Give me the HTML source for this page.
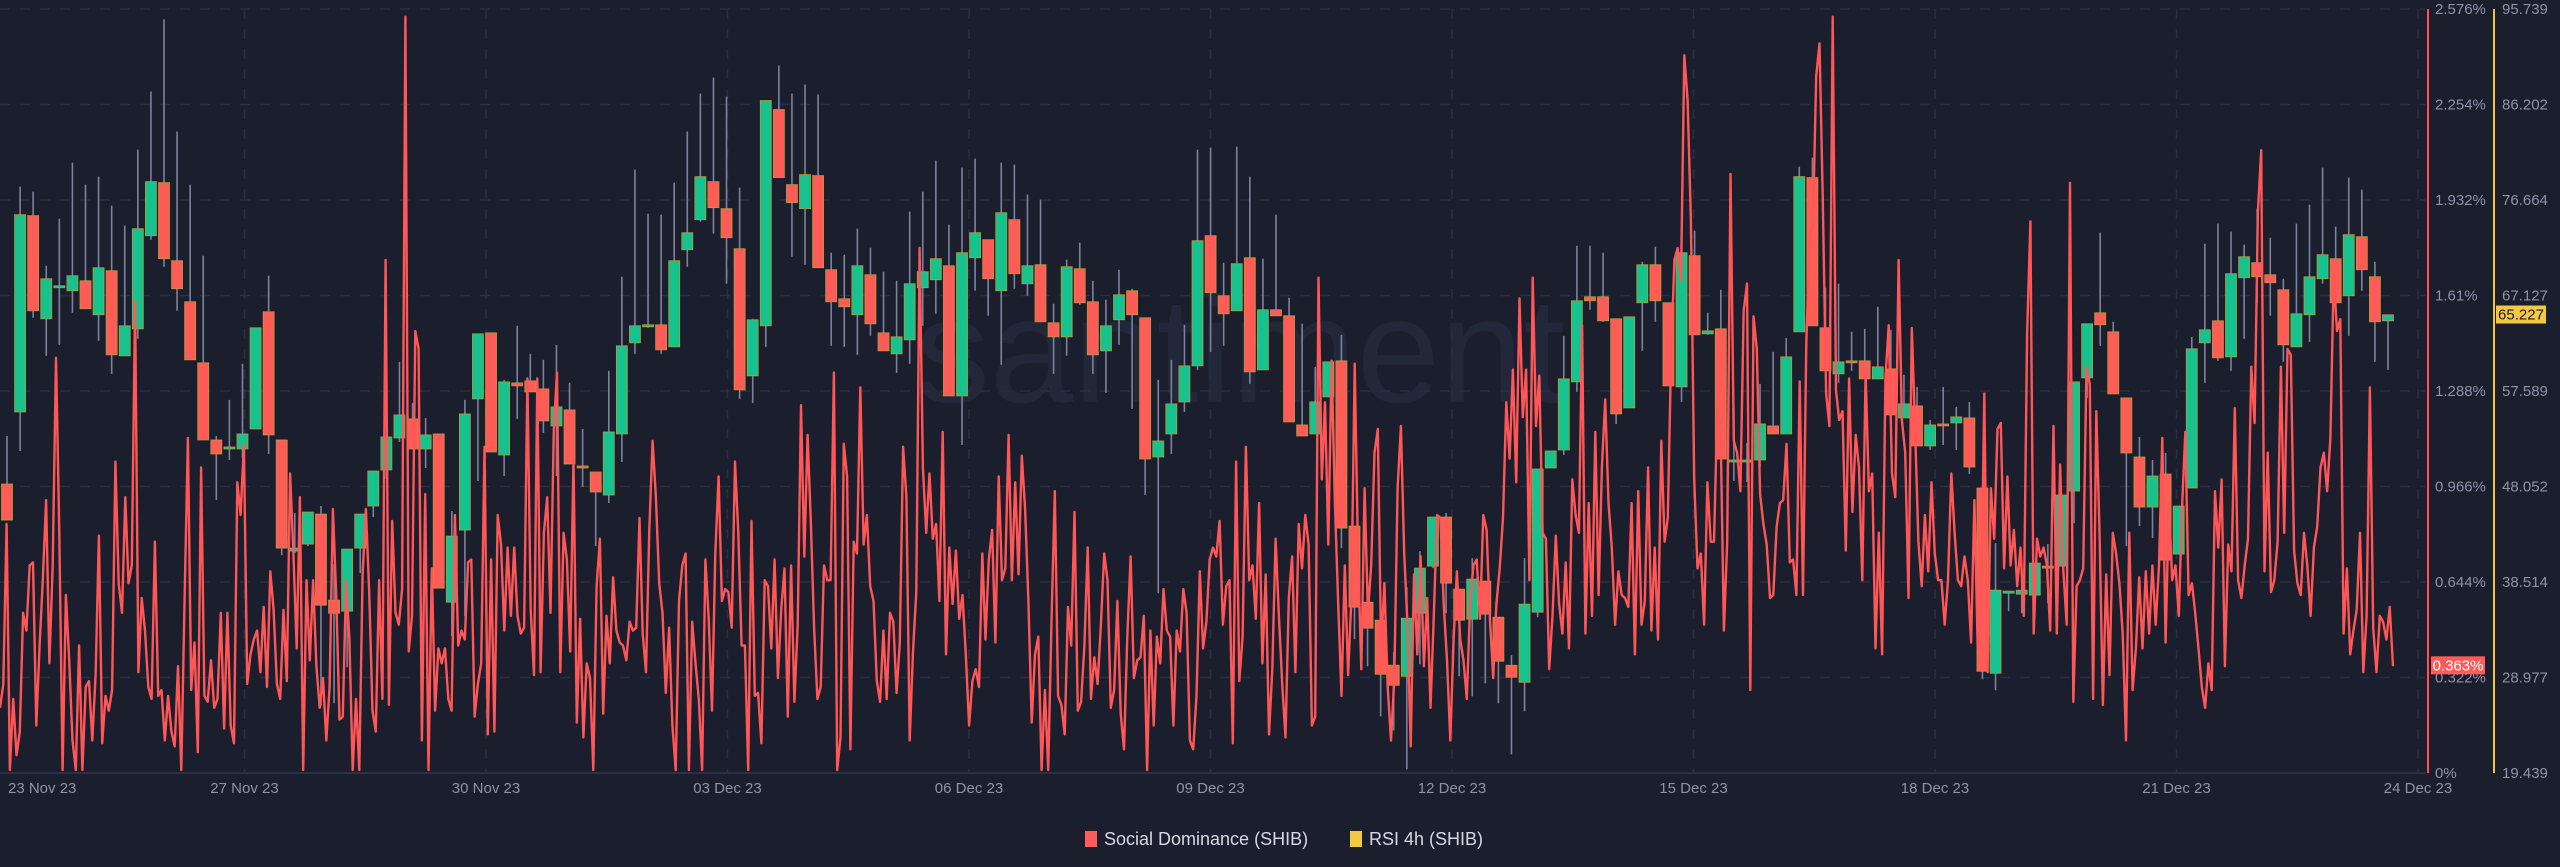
<!DOCTYPE html>
<html><head><meta charset="utf-8">
<style>
html,body{margin:0;padding:0;background:#1b1e2d;}
body{width:2560px;height:867px;overflow:hidden;font-family:"Liberation Sans",sans-serif;}
svg{display:block;}
</style></head>
<body>
<svg id="chart" width="2560" height="867" xmlns="http://www.w3.org/2000/svg">
<rect x="0" y="0" width="2560" height="867" fill="#1b1e2d"/>
<text x="1240" y="402" text-anchor="middle" font-family="Liberation Sans, sans-serif" font-size="150" fill="#23273a">santiment</text>
<g id="grid"></g>
<g id="candles"></g>
<g id="line"></g>
<g id="axes"></g>
<g>
<g>
<rect x="1085" y="831" width="12" height="16" fill="#ff5b5b"/>
<text x="1104" y="845" font-size="18" fill="#d6d9e2">Social Dominance (SHIB)</text>
</g>
<g>
<rect x="1350" y="831" width="12" height="16" fill="#f5c842"/>
<text x="1369" y="845" font-size="18" fill="#d6d9e2">RSI 4h (SHIB)</text>
</g>
</g>
</svg>
<script>
const pctTicks=['0%','0.322%','0.644%','0.966%','1.288%','1.61%','1.932%','2.254%','2.576%'];
const pctTickValues=[0,0.322,0.644,0.966,1.288,1.61,1.932,2.254,2.576];
const rsiTicks=['19.439','28.977','38.514','48.052','57.589','67.127','76.664','86.202','95.739'];
const rsiTickValues=[19.439,28.977,38.514,48.052,57.589,67.127,76.664,86.202,95.739];
const dateLabels=['23 Nov 23','27 Nov 23','30 Nov 23','03 Dec 23','06 Dec 23','09 Dec 23','12 Dec 23','15 Dec 23','18 Dec 23','21 Dec 23','24 Dec 23'];
const dateDays=[0,4,7,10,13,16,19,22,25,28,31];
const lastRsi=65.227;
const lastPct=0.363;
const rsiOHLC=[
[48.3,53.1,44.7,44.7],[55.5,78.0,51.6,75.2],[75.1,77.5,64.9,65.6],[64.8,70.1,61.1,68.8],[68.1,74.8,62.2,68.1],[67.6,80.4,65.4,69.1],[68.6,78.2,65.8,65.8],[65.2,79.0,62.6,69.9],[69.6,76.1,59.3,61.2],[61.1,74.1,61.1,64.1],
[63.8,81.7,62.8,73.8],[73.1,87.5,72.7,78.5],[78.4,94.7,70.0,70.8],[70.6,83.5,65.6,67.8],[66.5,78.2,60.7,60.7],[60.4,71.1,52.7,52.7],[52.7,53.1,46.7,51.3],[51.9,56.7,50.7,52.0],[51.8,60.3,50.9,53.3],[53.8,63.9,53.8,63.9],
[65.5,69.1,51.3,53.2],[52.7,52.7,41.2,41.9],[41.6,45.4,41.4,41.9],[42.3,45.5,42.1,45.5],[45.3,46.1,26.1,36.2],[36.7,40.3,26.4,35.4],[35.6,41.8,30.0,41.8],[41.9,45.3,39.4,45.3],[46.1,49.6,45.0,49.6],[49.7,53.0,48.8,53.0],
[52.9,60.5,52.5,55.2],[54.8,56.4,51.8,51.8],[51.8,54.9,49.9,53.2],[53.3,53.3,37.9,37.9],[36.5,45.6,33.1,43.1],[43.7,56.7,35.1,55.3],[56.8,63.3,48.6,63.3],[63.4,63.4,51.5,51.5],[51.2,58.7,49.1,58.5],[58.4,64.1,54.8,58.1],
[58.6,61.3,57.5,57.5],[57.8,60.7,53.4,54.6],[54.1,62.2,49.1,56.0],[55.7,58.4,50.3,50.3],[50.1,53.8,48.0,49.9],[49.5,49.5,42.1,47.5],[47.2,59.6,46.4,53.5],[53.3,69.0,50.5,62.1],[62.4,79.7,61.3,64.1],[64.2,75.3,63.9,64.2],
[64.2,75.2,61.3,61.7],[62.0,78.4,62.0,70.6],[71.7,83.5,70.0,73.4],[74.7,87.3,74.5,79.0],[78.5,88.9,73.3,75.9],[75.8,87.0,68.3,72.9],[71.8,77.9,56.8,57.7],[59.1,64.8,56.4,64.7],[64.1,86.6,62.0,86.6],[85.7,90.1,78.9,78.9],
[78.2,87.3,71.0,76.4],[75.8,88.2,70.2,79.2],[79.1,87.2,69.9,69.9],[69.7,71.4,62.1,66.5],[66.8,71.2,62.0,66.0],[65.2,73.8,61.2,70.1],[69.2,71.9,63.1,64.3],[63.4,69.5,61.6,61.6],[61.3,68.6,59.4,63.0],[62.7,75.5,60.3,68.3],
[67.9,77.5,64.1,69.5],[68.7,80.6,65.3,70.8],[70.1,74.2,57.1,57.1],[57.1,79.9,52.2,71.4],[70.9,80.8,67.6,73.4],[72.7,72.7,65.1,68.8],[67.6,80.4,60.2,75.4],[74.7,80.2,67.8,69.3],[68.3,77.2,67.1,70.1],[70.2,76.7,64.5,64.5],
[64.4,66.3,59.3,63.0],[63.0,70.7,61.1,70.0],[69.8,72.4,66.2,66.4],[66.5,68.6,59.3,61.2],[61.6,66.7,57.4,64.1],[64.7,69.7,62.2,67.2],[67.6,67.8,55.8,65.2],[64.9,64.9,47.2,50.8],[51.0,58.7,37.4,52.6],[53.3,60.7,51.3,56.3],
[56.5,64.2,55.5,60.1],[60.1,81.7,59.7,72.6],[73.1,81.9,61.5,67.4],[67.1,70.4,62.1,65.3],[65.6,82.0,65.6,70.3],[70.9,79.0,58.3,59.5],[59.7,70.8,59.7,65.7],[65.7,75.2,65.1,65.1],[65.1,66.9,54.5,54.5],[54.2,64.3,53.1,53.1],
[53.3,60.0,53.3,56.5],[57.0,60.5,57.0,60.5],[60.6,63.2,41.9,43.9],[44.1,44.1,32.8,36.0],[36.5,36.5,30.1,33.9],[34.7,34.7,25.1,29.3],[30.2,31.5,23.7,28.2],[29.1,38.0,19.8,34.9],[35.4,41.6,30.3,39.9],[40.1,45.0,39.9,45.0],
[45.0,45.4,35.4,38.4],[37.8,37.8,29.1,34.7],[34.8,40.9,27.1,38.8],[38.6,38.6,28.4,35.3],[35.0,35.0,26.4,30.6],[30.2,31.2,21.3,29.0],[28.5,40.9,25.6,36.3],[35.5,49.8,35.0,49.8],[49.9,51.6,49.9,51.6],[51.7,63.1,51.2,58.8],
[58.5,72.1,57.5,66.6],[67.0,72.1,65.7,66.6],[67.0,71.4,64.5,64.6],[64.8,64.8,54.3,55.3],[55.9,65.0,55.9,65.0],[66.4,70.5,61.6,70.2],[70.2,72.0,64.5,66.6],[66.4,66.4,58.1,58.1],[58.0,73.2,56.5,71.4],[71.1,73.6,63.2,63.2],
[63.3,65.4,63.2,63.6],[63.8,67.7,50.8,50.8],[50.6,55.9,48.6,50.7],[50.6,52.4,48.5,50.7],[50.7,58.3,50.0,54.3],[54.1,61.5,53.3,53.3],[53.3,62.9,53.3,61.0],[63.5,80.0,63.5,79.0],[78.9,80.9,64.1,64.1],[63.9,67.9,59.6,59.6],
[59.3,68.3,58.4,60.5],[60.6,63.5,59.6,60.5],[60.6,63.8,58.8,58.8],[58.8,66.0,58.8,60.0],[59.8,63.7,55.2,55.2],[54.9,59.2,54.9,56.3],[56.1,58.0,52.1,52.1],[52.1,54.7,51.7,54.2],[54.3,58.0,52.2,54.2],[54.4,56.0,51.7,55.0],
[54.9,56.5,49.3,50.0],[47.9,47.9,28.8,29.6],[29.4,42.4,27.7,37.7],[37.4,37.6,35.6,37.6],[37.3,38.9,35.4,37.7],[37.2,40.4,34.9,40.4],[40.1,42.3,36.4,40.0],[40.1,47.2,40.1,47.2],[47.6,58.5,44.4,58.5],[58.9,64.3,56.9,64.3],
[65.4,73.4,62.1,64.2],[63.5,64.5,57.3,57.3],[56.9,56.9,42.1,51.4],[51.0,53.0,44.1,46.0],[46.0,50.7,42.9,49.1],[49.3,51.4,40.7,40.7],[41.3,46.1,41.3,46.1],[47.9,63.0,47.9,61.8],[62.4,72.3,58.4,63.7],[64.6,74.3,60.6,60.9],
[61.0,73.5,59.6,69.3],[68.9,72.2,62.8,71.0],[70.4,75.8,66.4,69.0],[69.2,72.9,65.1,68.4],[67.7,68.8,60.5,62.2],[62.0,74.3,62.0,65.3],[65.2,76.2,62.5,69.0],[68.8,79.9,68.3,71.2],[70.8,74.0,66.4,66.4],[67.1,78.9,63.1,73.2],
[73.0,77.7,67.6,69.7],[69.0,70.5,60.5,64.5],[64.6,65.2,59.7,65.2]
];
const socialDominance=[
0.22,0.30,0.84,0.01,0.25,0.06,0.14,0.54,0.48,0.70,0.71,0.16,0.43,0.65,0.92,0.37,0.70,1.40,0.81,0.01,0.60,0.38,0.11,0.01,0.43,0.01,0.29,0.31,0.11,0.33,0.80,0.10,0.26,0.21,0.28,1.05,0.64,0.54,0.93,0.64,0.70,1.59,0.34,0.59,0.48,0.29,0.25,0.78,0.26,0.28,0.11,0.26,0.14,0.09,0.36,0.01,0.59,1.13,0.28,0.44,0.07,1.03,0.26,0.24,0.38,0.22,0.25,0.54,0.15,0.54,0.16,0.10,0.98,0.87,1.11,0.30,0.40,0.45,0.48,0.34,0.56,0.29,0.68,0.55,0.30,0.25,0.55,0.31,1.01,0.74,0.42,0.93,0.01,0.65,0.38,0.65,0.36,0.22,0.32,0.11,0.29,0.89,0.60,0.18,0.19,0.65,0.45,0.01,0.25,0.01,0.67,0.89,0.61,0.21,0.14,0.65,0.25,1.73,0.23,0.85,0.54,0.50,0.62,2.55,0.41,0.53,1.49,1.43,0.11,0.94,0.01,0.69,0.21,0.42,0.37,0.42,0.25,0.21,0.87,0.43,0.48,0.45,0.71,0.72,0.19,0.30,0.37,1.10,0.13,0.72,0.14,0.87,0.77,0.48,0.76,0.53,0.76,0.53,0.47,0.49,1.33,0.55,0.33,1.33,0.34,0.81,
0.93,0.54,1.16,1.35,0.34,0.81,0.72,0.41,1.06,0.17,0.52,0.12,0.37,0.32,0.01,0.63,0.79,0.20,0.53,0.37,0.66,0.48,0.44,0.43,0.38,0.51,0.48,0.49,0.86,0.47,0.34,0.82,1.12,0.93,0.64,0.54,0.27,0.49,0.16,0.01,0.58,0.70,0.74,0.01,0.51,0.37,0.25,0.01,0.72,0.52,0.21,0.74,1.00,0.58,0.62,0.61,0.49,1.05,0.81,0.43,0.43,0.01,0.85,0.26,0.27,0.10,0.65,0.63,0.42,0.72,0.32,0.55,0.69,0.19,0.70,0.24,0.50,1.24,0.73,1.14,0.84,0.49,0.25,0.29,0.70,0.65,0.65,1.35,0.01,0.12,1.11,1.00,0.08,0.78,0.74,1.30,0.77,0.87,0.63,0.58,0.31,0.24,0.48,0.25,0.54,0.51,0.27,0.44,1.10,0.93,0.11,0.41,0.61,1.77,1.03,0.81,1.01,0.79,0.84,0.58,1.15,0.40,0.76,0.57,0.75,0.52,0.60,0.40,0.16,0.31,0.35,0.29,0.74,0.45,0.72,0.82,0.44,1.00,0.65,0.69,1.14,0.65,0.98,0.67,1.07,0.89,0.58,0.17,0.40,0.46,0.01,0.28,0.01,0.51,0.95,0.26,0.23,0.13,0.56,0.43,0.88,0.21,0.24,0.43,0.76,0.25,0.39,0.30,0.50,0.74,0.65,0.22,0.28,0.58,0.20,0.08,0.46,0.73,0.32,0.38,0.39,0.53,0.01,0.48,0.16,0.46,0.37,0.62,0.48,
0.46,0.16,0.48,0.41,0.62,0.54,0.11,0.08,0.26,0.68,0.42,0.51,0.72,0.76,0.73,0.85,0.50,0.63,0.65,0.10,1.05,0.31,0.46,1.10,0.65,0.70,0.52,0.91,0.37,0.67,0.13,0.35,0.79,0.53,0.30,0.12,0.59,0.73,0.34,0.84,0.69,0.87,0.77,0.16,0.19,1.67,0.99,1.25,0.77,1.39,0.91,0.57,0.26,0.70,0.33,0.59,1.38,0.74,0.35,0.96,0.54,0.70,1.08,1.16,0.42,0.64,0.29,0.11,0.32,0.96,1.17,0.74,0.50,0.09,0.67,0.40,0.73,0.36,0.59,0.22,0.53,0.87,0.86,0.57,0.38,0.11,0.45,0.68,0.45,0.38,0.25,0.57,0.70,0.72,0.52,0.87,0.82,0.52,0.32,0.57,0.69,0.86,1.25,1.06,1.36,0.98,1.60,1.20,1.36,0.65,1.67,1.17,1.34,0.81,0.79,0.35,0.53,0.80,0.57,0.47,0.71,0.42,0.99,0.87,0.81,1.51,0.47,0.91,0.53,1.15,0.60,1.03,1.26,0.91,0.76,0.50,0.68,0.60,0.59,0.56,0.91,0.40,0.95,0.50,0.58,1.03,0.48,0.76,0.45,1.12,0.78,0.86,1.41,1.73,1.77,1.66,2.42,2.27,1.86,0.99,0.69,0.74,0.50,0.98,0.78,0.78,1.23,1.16,0.48,0.78,2.02,1.12,1.08,0.95,1.56,1.65,0.28,1.54,1.43,0.94,0.84,0.77,0.59,0.60,0.83,0.91,0.92,1.11,0.71,0.72,0.60,1.32,0.60,1.45,1.81,1.84,2.35,2.46,1.93,1.28,
1.17,2.55,1.29,1.19,1.22,0.75,1.33,0.88,1.14,1.03,0.65,1.35,0.95,1.01,0.42,0.81,0.40,1.33,1.51,1.01,0.93,1.73,1.19,1.08,0.59,1.50,1.16,0.78,0.63,0.87,0.68,0.98,0.74,0.65,0.65,0.50,0.65,1.01,0.81,0.65,0.63,0.73,0.65,0.44,0.92,0.42,0.50,1.28,0.34,0.96,0.79,1.16,1.18,0.69,1.00,0.70,0.82,0.63,0.76,0.53,1.48,1.86,0.47,0.79,0.73,0.76,0.70,0.48,1.17,0.47,1.04,0.68,0.50,1.99,0.24,0.63,0.65,0.69,1.37,1.31,0.25,1.22,0.80,0.23,0.67,0.33,0.81,0.74,0.64,0.47,0.11,0.81,0.28,0.42,0.66,0.42,0.68,0.47,0.70,0.50,0.70,1.13,0.44,0.91,0.65,0.70,0.53,0.89,1.15,0.60,0.64,0.54,0.42,0.29,0.22,0.37,0.28,0.95,0.76,0.99,0.36,0.77,0.68,1.23,0.65,0.59,0.70,0.79,1.37,1.18,1.89,2.10,0.68,1.08,0.61,0.65,0.78,1.37,0.81,1.43,1.41,0.75,0.64,0.60,0.81,0.70,0.53,0.76,0.83,1.03,1.08,0.95,1.13,1.68,1.49,1.53,0.47,0.69,0.40,0.48,0.55,0.81,0.34,0.53,1.30,0.49,0.34,0.53,0.51,0.45,0.56,0.36
];

const NS='http://www.w3.org/2000/svg';
const TOP=9, BOT=773, PLOT_R=2425;
function yPct(v){return BOT-(v/2.576)*(BOT-TOP);}
function yRsi(v){return BOT-((v-19.439)/(95.739-19.439))*(BOT-TOP);}
function xDay(d){return 2418-(31-d)*80.5;}
const CX0=7, CX1=2388, LX0=0, LX1=2393;
function xCandle(i){return CX0+i*(CX1-CX0)/(rsiOHLC.length-1);}
function xLine(i){return LX0+i*(LX1-LX0)/(socialDominance.length-1);}
function mk(tag,attrs,parent){const e=document.createElementNS(NS,tag);for(const k in attrs)e.setAttribute(k,attrs[k]);parent.appendChild(e);return e;}

const grid=document.getElementById('grid');
pctTickValues.forEach(v=>{
  const y=yPct(v);
  const l=mk('line',{x1:0,x2:PLOT_R,y1:y,y2:y,stroke:'#2a2e42','stroke-width':1.5,'stroke-dasharray':'10 10'},grid);
  
  
});
dateDays.forEach((d,i)=>{
  if(i===0)return;
  const x=xDay(d);
  const l=mk('line',{x1:x,x2:x,y1:TOP,y2:BOT,stroke:'#2a2e42','stroke-width':1.5,'stroke-dasharray':'10 10'},grid);
  
  
});
const base=mk('line',{x1:0,x2:PLOT_R,y1:BOT,y2:BOT,stroke:'#2c3044','stroke-width':2},grid);



const cg=document.getElementById('candles');
rsiOHLC.forEach((c,i)=>{
  const [o,h,l,cl]=c;
  const x=xCandle(i);
  const up=cl>=o;
  const g=mk('g',{},cg);
  
  
  mk('line',{x1:x,x2:x,y1:yRsi(h),y2:yRsi(l),stroke:'#7c8299','stroke-width':1.6},g);
  const yt=yRsi(Math.max(o,cl)), yb=yRsi(Math.min(o,cl));
  mk('rect',{x:x-5.5,y:yt,width:11,height:Math.max(2,yb-yt),fill:up?'#16c38f':'#ff5c58',stroke:'#b59a3c','stroke-width':0.8},g);
});

const lg=document.getElementById('line');
let d='';
socialDominance.forEach((v,i)=>{d+=(i?'L':'M')+xLine(i).toFixed(1)+' '+yPct(v).toFixed(1);});
const p=mk('path',{d:d,fill:'none',stroke:'#ff5757','stroke-width':2.4,'stroke-linejoin':'round'},lg);



const ax=document.getElementById('axes');
const a1=mk('line',{x1:2428,x2:2428,y1:TOP,y2:BOT,stroke:'#ff5252','stroke-width':2},ax);


const a2=mk('line',{x1:2494,x2:2494,y1:TOP,y2:BOT,stroke:'#f5c33f','stroke-width':2},ax);


pctTickValues.forEach((v,i)=>{
  const t=mk('text',{x:2435,y:yPct(v)+5,'font-size':15,fill:'#8d93a8'},ax);
  t.textContent=pctTicks[i];
  
  
});
rsiTickValues.forEach((v,i)=>{
  const t=mk('text',{x:2502,y:yRsi(v)+5,'font-size':15,fill:'#8d93a8'},ax);
  t.textContent=rsiTicks[i];
  
  
});
dateLabels.forEach((s,i)=>{
  const x=i===0?8:xDay(dateDays[i]);
  const t=mk('text',{x:x,y:793,'font-size':15,fill:'#8d93a8','text-anchor':i===0?'start':'middle'},ax);
  t.textContent=s;
  
  
});
const yb1=yRsi(lastRsi);
const b1=mk('g',{},ax);


mk('rect',{x:2496,y:yb1-9,width:50,height:18,fill:'#f5c842'},b1);
const bt1=mk('text',{x:2521,y:yb1+5,'font-size':15,fill:'#1b1e2d','text-anchor':'middle'},b1);
bt1.textContent=lastRsi.toFixed(3);
const yb2=yPct(lastPct);
const b2=mk('g',{},ax);


mk('rect',{x:2431,y:yb2-9,width:54,height:18,fill:'#ff5b5b'},b2);
const bt2=mk('text',{x:2458,y:yb2+5,'font-size':15,fill:'#ffffff','text-anchor':'middle'},b2);
bt2.textContent=lastPct.toFixed(3)+'%';
</script>
</body></html>
